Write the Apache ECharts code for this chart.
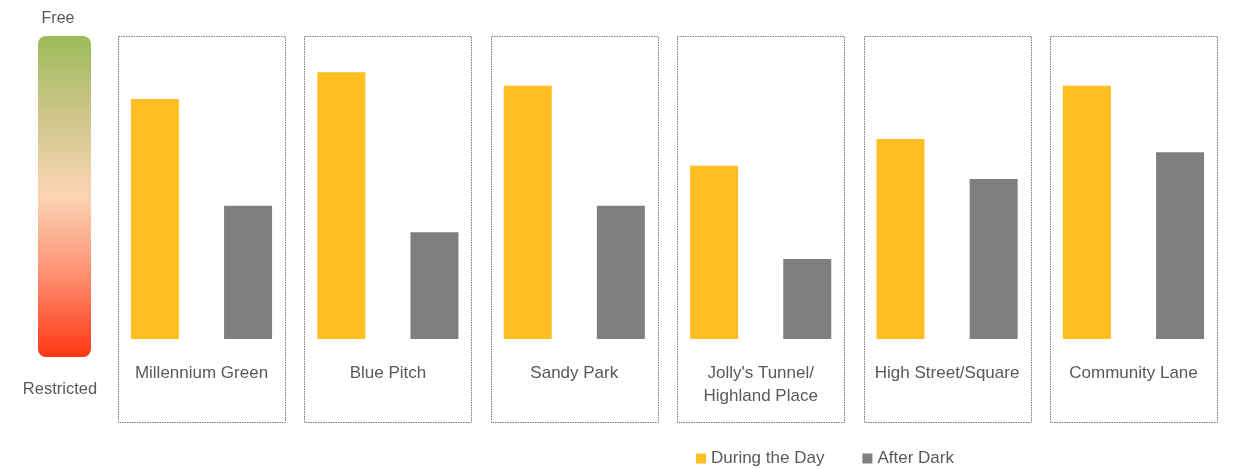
<!DOCTYPE html>
<html>
<head>
<meta charset="utf-8">
<script src="https://cdn.jsdelivr.net/npm/echarts@6/dist/echarts.min.js"></script>
<style>
  html, body { margin: 0; padding: 0; background: #fff; }
  #chart { width: 1237px; height: 469px; }
</style>
</head>
<body>
<div id="chart"></div>
<script>
// Locations and scores (0 = restricted, 10 = free)
const locations = ['Millennium Green', 'Blue Pitch', 'Sandy Park', "Jolly's Tunnel/\nHighland Place", 'High Street/Square', 'Community Lane'];
const duringDay = [9, 10, 9.5, 6.5, 7.5, 9.5];
const afterDark = [5, 4, 5, 3, 6, 7];
const scaleLabels = ['Free', 'Restricted'];

const textColor = '#595959';
const font = '"Liberation Sans", Arial, sans-serif';

const chart = echarts.init(document.getElementById('chart'), null, { renderer: 'canvas' });

const option = {
  animation: false,
  textStyle: { fontFamily: font },
  legend: {
    left: 691,
    top: 445,
    itemWidth: 10,
    itemHeight: 10,
    itemGap: 38,
    icon: 'rect',
    textStyle: { color: textColor, fontSize: 17, fontFamily: font },
    data: ['During the Day', 'After Dark']
  },
  grid: { left: 108.3, right: 10.3, top: 72.3, height: 266.7, containLabel: false },
  xAxis: {
    type: 'category',
    data: locations,
    axisLine: { show: false },
    axisTick: { show: false },
    axisLabel: {
      color: textColor,
      fontSize: 17,
      fontFamily: font,
      margin: 23,
      lineHeight: 23,
      verticalAlign: 'top',
      interval: 0
    }
  },
  yAxis: {
    type: 'value',
    min: 0,
    max: 10,
    show: false,
    splitLine: { show: false }
  },
  series: [
    {
      name: 'During the Day',
      type: 'bar',
      data: duringDay,
      barWidth: 48,
      barGap: '94%',
      itemStyle: { color: '#FFBF22' }
    },
    {
      name: 'After Dark',
      type: 'bar',
      data: afterDark,
      barWidth: 48,
      itemStyle: { color: '#7F7F7F' }
    }
  ]
};

chart.setOption(option);

// Dotted frame around each location, plus the free/restricted colour scale
const frames = locations.map((_, i) => {
  const cx = chart.convertToPixel({ xAxisIndex: 0 }, i);
  return {
    type: 'rect',
    silent: true,
    shape: { x: Math.round(cx - 83.5) + 0.5, y: 36.5, width: 167, height: 386 },
    style: { fill: 'none', stroke: '#6f7a8a', lineWidth: 1, lineDash: [1.5, 1] },
    z: -1
  };
});

chart.setOption({
  graphic: frames.concat([
    {
      type: 'rect',
      silent: true,
      shape: { x: 38, y: 36, width: 53, height: 321, r: 8 },
      style: {
        fill: new echarts.graphic.LinearGradient(0, 0, 0, 1, [
          { offset: 0, color: '#9BBB59' },
          { offset: 0.25, color: '#CFC68A' },
          { offset: 0.5, color: '#FBD4B4' },
          { offset: 0.75, color: '#FE8E6E' },
          { offset: 1, color: '#FF3614' }
        ])
      }
    },
    {
      type: 'text',
      silent: true,
      style: { text: scaleLabels[0], x: 58, y: 19, align: 'center', verticalAlign: 'middle', fill: textColor, fontSize: 16, fontFamily: font }
    },
    {
      type: 'text',
      silent: true,
      style: { text: scaleLabels[1], x: 60, y: 389, align: 'center', verticalAlign: 'middle', fill: textColor, fontSize: 16.5, fontFamily: font }
    }
  ])
});
</script>
</body>
</html>
